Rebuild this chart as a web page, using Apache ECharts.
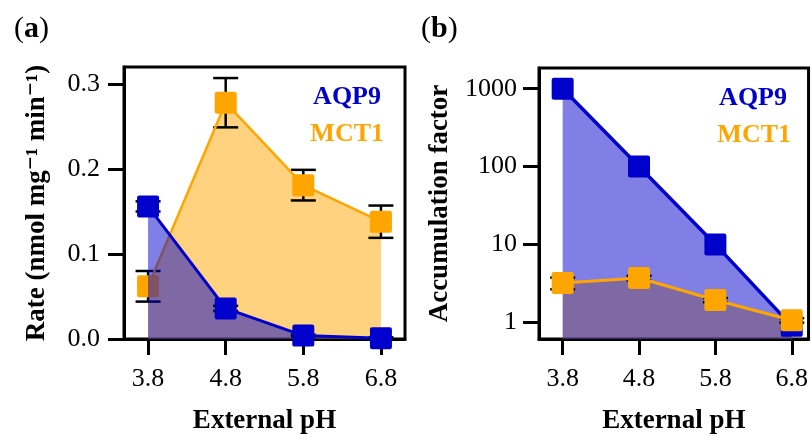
<!DOCTYPE html>
<html>
<head>
<meta charset="utf-8">
<title>AQP9 / MCT1 vs external pH</title>
<script src="https://cdn.jsdelivr.net/npm/echarts@6/dist/echarts.min.js"></script>
<style>
html, body { margin: 0; padding: 0; background: #fff; }
#main { width: 811px; height: 440px; }
</style>
</head>
<body>
<div id="main"></div>
<script>
// x positions and tick values
var phTicks = [3.8, 4.8, 5.8, 6.8];
var rateTicks = [0, 0.1, 0.2, 0.3];
var accTicks = [1, 10, 100, 1000];
var names = ['AQP9', 'MCT1'];

// (a) rate, nmol mg-1 min-1
var aqp9Rate = [0.156, 0.036, 0.004, 0.001];
var aqp9RateErr = [0.006, 0.003, 0.001, 0.001];
var mct1Rate = [0.062, 0.278, 0.181, 0.138];
var mct1RateErr = [0.018, 0.029, 0.018, 0.019];

// (b) accumulation factor
var aqp9Acc = [1000, 100, 10, 0.9];
var mct1Acc = [3.2, 3.7, 1.93, 1.06];
var mct1AccErr = [0.55, 0.25, 0.12, 0.07];

var BLUE = '#0000cc', ORANGE = '#ffa500';
var FONT = "'Liberation Serif', 'DejaVu Serif', serif";
// square with slightly rounded corners
var SQUARE = 'path://M2,0H18Q20,0 20,2V18Q20,20 18,20H2Q0,20 0,18V2Q0,0 2,0Z';

function pts(vals) {
    return phTicks.map(function (x, i) { return [x, vals[i]]; });
}
function errPts(vals, errs) {
    return phTicks.map(function (x, i) { return [x, vals[i] - errs[i], vals[i] + errs[i]]; });
}

function areaSeries(name, idx, data, color, z) {
    return {
        name: name, type: 'line', xAxisIndex: idx, yAxisIndex: idx, z: z,
        data: data, symbol: 'none', silent: true,
        lineStyle: { width: 0 },
        areaStyle: { color: color, opacity: 1 }
    };
}
function lineSeries(name, idx, data, color, width, z) {
    return {
        name: name, type: 'line', xAxisIndex: idx, yAxisIndex: idx, z: z,
        data: data, symbol: SQUARE, symbolSize: 22, silent: true,
        lineStyle: { color: color, width: width },
        itemStyle: { color: color }
    };
}
function errSeries(idx, data, z) {
    return {
        type: 'custom', xAxisIndex: idx, yAxisIndex: idx, z: z, silent: true,
        data: data,
        renderItem: function (params, api) {
            var x = api.value(0);
            var lo = api.coord([x, api.value(1)]);
            var hi = api.coord([x, api.value(2)]);
            var w = 12.5;
            var st = { stroke: '#000', lineWidth: 2.5 };
            return {
                type: 'group',
                children: [
                    { type: 'line', shape: { x1: lo[0], y1: lo[1], x2: hi[0], y2: hi[1] }, style: st },
                    { type: 'line', shape: { x1: lo[0] - w, y1: lo[1], x2: lo[0] + w, y2: lo[1] }, style: st },
                    { type: 'line', shape: { x1: hi[0] - w, y1: hi[1], x2: hi[0] + w, y2: hi[1] }, style: st }
                ]
            };
        }
    };
}

function xAxis(idx, max) {
    return {
        type: 'value', gridIndex: idx, min: 3.49, max: max,
        splitLine: { show: false },
        axisLine: { show: true, onZero: false, lineStyle: { color: '#000', width: 3 } },
        axisTick: { length: 16, lineStyle: { color: '#000', width: 3 }, customValues: phTicks },
        axisLabel: {
            customValues: phTicks, margin: 27, color: '#000', fontSize: 26, fontFamily: FONT,
            formatter: function (v) { return v.toFixed(1); }
        },
        name: 'External pH', nameLocation: 'middle', nameGap: 69,
        nameTextStyle: { color: '#000', fontSize: 27, fontWeight: 'bold', fontFamily: FONT }
    };
}

var option = {
    backgroundColor: '#fff',
    animation: false,
    grid: [
        { left: 124, top: 67, width: 281, height: 276, show: true, borderColor: '#000', borderWidth: 3 },
        { left: 539, top: 68, width: 271, height: 275, show: true, borderColor: '#000', borderWidth: 3 }
    ],
    xAxis: [xAxis(0, 7.11), xAxis(1, 7.02)],
    yAxis: [
        {
            type: 'value', gridIndex: 0, min: 0, max: 0.32,
            splitLine: { show: false },
            axisLine: { show: true, lineStyle: { color: '#000', width: 3 } },
            axisTick: { length: 16, lineStyle: { color: '#000', width: 3 }, customValues: rateTicks },
            axisLabel: {
                customValues: rateTicks, margin: 24, color: '#000', fontSize: 26, fontFamily: FONT,
                formatter: function (v) { return v.toFixed(1); }
            },
            name: 'Rate (nmol mg\u207b\u00b9 min\u207b\u00b9)', nameLocation: 'middle', nameGap: 73,
            nameTextStyle: { color: '#000', fontSize: 27, fontWeight: 'bold', fontFamily: FONT }
        },
        {
            type: 'log', logBase: 10, gridIndex: 1, min: 0.61, max: 1845,
            splitLine: { show: false },
            axisLine: { show: true, lineStyle: { color: '#000', width: 3 } },
            axisTick: { length: 16, lineStyle: { color: '#000', width: 3 }, customValues: accTicks },
            axisLabel: {
                customValues: accTicks, margin: 22, color: '#000', fontSize: 26, fontFamily: FONT,
                formatter: function (v) { return String(Math.round(v)); }
            },
            name: 'Accumulation factor', nameLocation: 'middle', nameGap: 85,
            nameTextStyle: { color: '#000', fontSize: 27, fontWeight: 'bold', fontFamily: FONT }
        }
    ],
    graphic: [
        { type: 'text', x: 14, y: 14, style: { text: '({b|a})', fill: '#000', font: '30px ' + FONT,
            rich: { b: { fontWeight: 'bold', fontSize: 30, fontFamily: FONT } } } },
        { type: 'text', x: 421, y: 14, style: { text: '({b|b})', fill: '#000', font: '30px ' + FONT,
            rich: { b: { fontWeight: 'bold', fontSize: 30, fontFamily: FONT } } } },
        { type: 'text', x: 381, y: 97, z: 100, style: { text: names[0], fill: BLUE, textAlign: 'right', textVerticalAlign: 'middle', font: 'bold 26px ' + FONT } },
        { type: 'text', x: 384, y: 134, z: 100, style: { text: names[1], fill: ORANGE, textAlign: 'right', textVerticalAlign: 'middle', font: 'bold 26px ' + FONT } },
        { type: 'text', x: 787, y: 98, z: 100, style: { text: names[0], fill: BLUE, textAlign: 'right', textVerticalAlign: 'middle', font: 'bold 26px ' + FONT } },
        { type: 'text', x: 791, y: 135, z: 100, style: { text: names[1], fill: ORANGE, textAlign: 'right', textVerticalAlign: 'middle', font: 'bold 26px ' + FONT } }
    ],
    series: [
        // (a)
        areaSeries(names[1], 0, pts(mct1Rate), 'rgba(255,165,0,0.5)', 1),
        errSeries(0, errPts(mct1Rate, mct1RateErr), 2),
        lineSeries(names[1], 0, pts(mct1Rate), ORANGE, 2.5, 3),
        areaSeries(names[0], 0, pts(aqp9Rate), 'rgba(0,0,204,0.5)', 4),
        errSeries(0, errPts(aqp9Rate, aqp9RateErr), 5),
        lineSeries(names[0], 0, pts(aqp9Rate), BLUE, 3, 6),
        // (b)
        areaSeries(names[1], 1, pts(mct1Acc), 'rgba(255,165,0,0.5)', 1),
        areaSeries(names[0], 1, pts(aqp9Acc), 'rgba(0,0,204,0.5)', 2),
        lineSeries(names[0], 1, pts(aqp9Acc), BLUE, 3.5, 3),
        errSeries(1, errPts(mct1Acc, mct1AccErr), 4),
        lineSeries(names[1], 1, pts(mct1Acc), ORANGE, 3, 5)
    ]
};

var chart = echarts.init(document.getElementById('main'));
chart.setOption(option);
</script>
</body>
</html>
